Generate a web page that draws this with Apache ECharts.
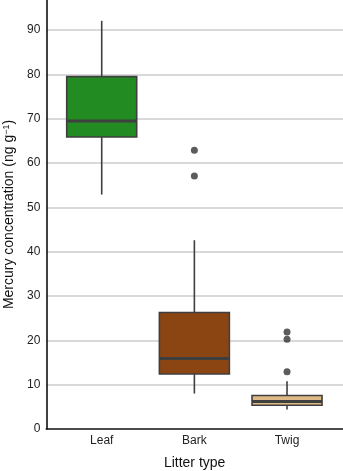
<!DOCTYPE html>
<html>
<head>
<meta charset="utf-8">
<script src="https://cdn.jsdelivr.net/npm/echarts@6/dist/echarts.min.js"></script>
<style>
  html, body { margin: 0; padding: 0; background: #fff; }
  #chart { width: 343px; height: 471px; }
</style>
</head>
<body>
<div id="chart"></div>
<script>
// litter types and their box stats
const categories = ['Leaf', 'Bark', 'Twig']
const whiskerLow = [52.9, 8.0, 4.4]
const q1 = [65.9, 12.4, 5.35]
const median = [69.5, 15.9, 6.2]
const q3 = [79.5, 26.3, 7.55]
const whiskerHigh = [92.1, 42.6, 10.8]
const boxColors = ['#228b22', '#8b4513', '#deb887']
// outliers: [category index, value]
const outliers = [[1, 62.9], [1, 57.1], [2, 21.9], [2, 20.25], [2, 12.9]]
const yTicks = [0, 10, 20, 30, 40, 50, 60, 70, 80, 90]

const edgeColor = '#3f3f3f'
const font = "'Liberation Sans', Arial, sans-serif"

let boxData = categories.map((c, i) => [i, whiskerLow[i], q1[i], median[i], q3[i], whiskerHigh[i]])

function renderBox(params, api) {
    let i = api.value(0)
    let halfW = 35
    let x = api.coord([i, api.value(3)])[0]
    let yLow = api.coord([i, api.value(1)])[1]
    let yQ1 = api.coord([i, api.value(2)])[1]
    let yMed = api.coord([i, api.value(3)])[1]
    let yQ3 = api.coord([i, api.value(4)])[1]
    let yHigh = api.coord([i, api.value(5)])[1]
    let line = { stroke: edgeColor, lineWidth: 1.6 }
    return {
        type: 'group',
        children: [
            { type: 'line', shape: { x1: x, y1: yQ3, x2: x, y2: yHigh }, style: line },
            { type: 'line', shape: { x1: x, y1: yQ1, x2: x, y2: yLow }, style: line },
            {
                type: 'rect',
                shape: { x: x - halfW, y: yQ3, width: halfW * 2, height: yQ1 - yQ3 },
                style: { fill: boxColors[i], stroke: edgeColor, lineWidth: 1.6 }
            },
            {
                type: 'line',
                shape: { x1: x - halfW, y1: yMed, x2: x + halfW, y2: yMed },
                style: { stroke: edgeColor, lineWidth: 3 }
            }
        ]
    }
}

let option = {
    animation: false,
    grid: {
        left: 46.3,
        right: 0,
        top: 0,
        bottom: 42,
        containLabel: false,
        outerBoundsMode: 'none'
    },
    xAxis: {
        type: 'value',
        min: -0.598,
        max: 2.604,
        name: 'Litter type',
        nameLocation: 'middle',
        nameGap: 27,
        nameTextStyle: { color: '#111', fontSize: 14, fontFamily: font },
        axisLine: { show: true, onZero: false, lineStyle: { color: '#111', width: 1.6 } },
        axisTick: { show: false },
        splitLine: { show: false },
        axisLabel: {
            customValues: [0, 1, 2],
            formatter: v => categories[Math.round(v)],
            color: '#222',
            fontSize: 12,
            fontFamily: font,
            margin: 6
        }
    },
    yAxis: {
        type: 'value',
        min: 0,
        max: 96.8,
        interval: 10,
        name: 'Mercury concentration (ng g{sup|\u22121})',
        nameLocation: 'middle',
        nameGap: 29,
        nameTextStyle: {
            color: '#111',
            fontSize: 14,
            fontFamily: font,
            rich: {
                sup: { fontSize: 9, fontFamily: font, color: '#111', verticalAlign: 'top', padding: [0, 0, 6, 0] }
            }
        },
        axisLine: { show: true, onZero: false, lineStyle: { color: '#111', width: 1.6 } },
        axisTick: { show: false },
        axisLabel: {
            customValues: yTicks,
            color: '#222',
            fontSize: 12,
            fontFamily: font,
            margin: 6
        },
        splitLine: { show: true, showMaxLine: false, showMinLine: false, lineStyle: { color: '#cccccc', width: 1.5 } }
    },
    series: [{
        type: 'custom',
        renderItem: renderBox,
        data: boxData,
        z: 3
    }, {
        type: 'scatter',
        data: outliers,
        symbol: 'circle',
        symbolSize: 7,
        itemStyle: { color: '#333333' },
        z: 4
    }]
}

// eslint-disable-next-line no-undef
var myChart = echarts.init(document.getElementById('chart'))
myChart.setOption(option)
</script>
</body>
</html>
